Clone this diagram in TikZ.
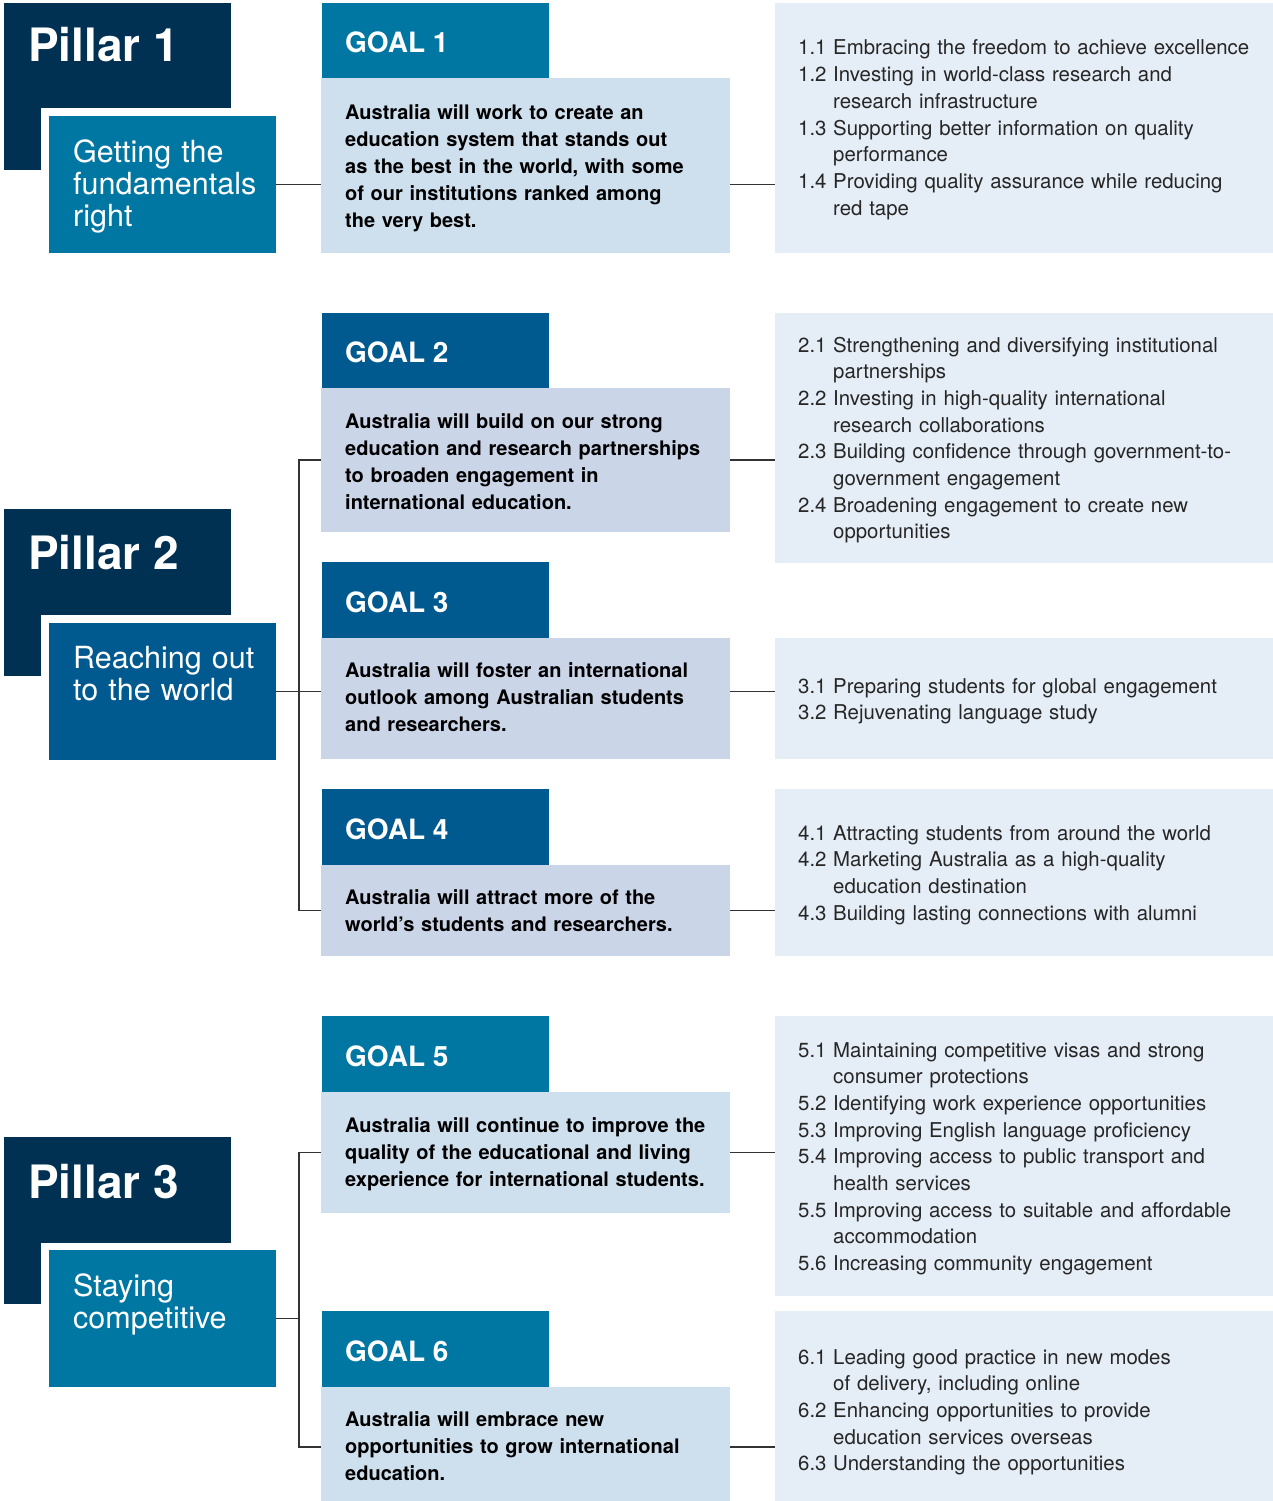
\documentclass[tikz,border=0pt]{standalone}
\usepackage{fontspec}
\setmainfont{TeX Gyre Heros}
\definecolor{navy}{HTML}{003152}
\definecolor{tealb}{HTML}{0077A3}
\definecolor{blueb}{HTML}{00598F}
\definecolor{lightA}{HTML}{CEDFED}
\definecolor{lightB}{HTML}{CBD5E8}
\definecolor{objc}{HTML}{E5EDF6}
\definecolor{linec}{HTML}{333333}
\newcommand{\itm}[1]{\makebox[35pt][l]{#1}}
\newcommand{\cnt}{\hspace*{35pt}}
\begin{document}
\begin{tikzpicture}[x=1pt,y=-1pt,
  box/.style={anchor=north west,inner sep=0pt,outer sep=0pt,draw=none},
  pillartxt/.style={anchor=base west,inner sep=0pt,text=white,font=\fontsize{46}{50}\selectfont\bfseries},
  subtxt/.style={anchor=base west,inner sep=0pt,text=white,align=left,text width=200pt,font=\fontsize{30.5}{32}\selectfont},
  goaltxt/.style={anchor=base west,inner sep=0pt,text=white,font=\fontsize{28}{32}\selectfont\bfseries},
  goalbody/.style={anchor=base west,inner sep=0pt,text=black,align=left,text width=380pt,font=\fontsize{20}{27}\selectfont\bfseries},
  objtxt/.style={anchor=base west,inner sep=0pt,text=black!85,align=left,text width=470pt,font=\fontsize{20.4}{26.67}\selectfont},
  conn/.style={draw=linec,line width=1.1pt}]
\useasboundingbox (0,0) rectangle (1273,1501);

% ---------------- Pillar 1 ----------------
\fill[navy] (4,3) rectangle (231,170);
\fill[white] (41,108) rectangle (280,258);
\node[box,fill=tealb,minimum width=227pt,minimum height=137pt] (s1) at (49,116) {};
\node[pillartxt] (p1t) at (28,62) {Pillar 1};
\node[subtxt] (s1t) at (73,162) {Getting the\\fundamentals\\right};

\node[box,fill=tealb,minimum width=227pt,minimum height=75pt] (g1h) at (322,3) {};
\node[goaltxt] (g1t) at (345,52.5) {GOAL 1};
\node[box,fill=lightA,minimum width=409pt,minimum height=175pt] (g1b) at (321,78) {};
\node[goalbody] (g1x) at (345,120) {Australia will work to create an\\education system that stands out\\as the best in the world, with some\\of our institutions ranked among\\the very best.};

\node[box,fill=objc,minimum width=498pt,minimum height=250pt] (o1) at (775,3) {};
\node[objtxt] (o1x) at (798,55) {\itm{1.1}Embracing the freedom to achieve excellence\\
\itm{1.2}Investing in world-class research and\\\cnt research infrastructure\\
\itm{1.3}Supporting better information on quality\\\cnt performance\\
\itm{1.4}Providing quality assurance while reducing\\\cnt red tape};

\draw[conn] (s1.east) -- (s1.east -| g1b.west);
\draw[conn] (g1b.east |- s1.east) -- (o1.west |- s1.east);

% ---------------- Pillar 2 ----------------
\fill[navy] (4,509) rectangle (231,676);
\fill[white] (41,615) rectangle (280,765);
\node[box,fill=blueb,minimum width=227pt,minimum height=137pt] (s2) at (49,623) {};
\node[pillartxt] (p2t) at (28,569) {Pillar 2};
\node[subtxt] (s2t) at (73,668) {Reaching out\\to the world};

\node[box,fill=blueb,minimum width=227pt,minimum height=75pt] (g2h) at (322,313) {};
\node[goaltxt] (g2t) at (345,362.5) {GOAL 2};
\node[box,fill=lightB,minimum width=409pt,minimum height=144pt] (g2b) at (321,388) {};
\node[goalbody] (g2x) at (345,428) {Australia will build on our strong\\education and research partnerships\\to broaden engagement in\\international education.};
\node[box,fill=objc,minimum width=498pt,minimum height=250pt] (o2) at (775,313) {};
\node[objtxt] (o2x) at (798,352) {\itm{2.1}Strengthening and diversifying institutional\\\cnt partnerships\\
\itm{2.2}Investing in high-quality international\\\cnt research collaborations\\
\itm{2.3}Building confidence through government-to-\\\cnt government engagement\\
\itm{2.4}Broadening engagement to create new\\\cnt opportunities};

\node[box,fill=blueb,minimum width=227pt,minimum height=76pt] (g3h) at (322,562) {};
\node[goaltxt] (g3t) at (345,612) {GOAL 3};
\node[box,fill=lightB,minimum width=409pt,minimum height=121pt] (g3b) at (321,638) {};
\node[goalbody] (g3x) at (345,677) {Australia will foster an international\\outlook among Australian students\\and researchers.};
\node[box,fill=objc,minimum width=498pt,minimum height=121pt] (o3) at (775,638) {};
\node[objtxt] (o3x) at (798,693) {\itm{3.1}Preparing students for global engagement\\
\itm{3.2}Rejuvenating language study};

\node[box,fill=blueb,minimum width=227pt,minimum height=76pt] (g4h) at (322,789) {};
\node[goaltxt] (g4t) at (345,839) {GOAL 4};
\node[box,fill=lightB,minimum width=409pt,minimum height=91pt] (g4b) at (321,865) {};
\node[goalbody] (g4x) at (345,904) {Australia will attract more of the\\world’s students and researchers.};
\node[box,fill=objc,minimum width=498pt,minimum height=167pt] (o4) at (775,789) {};
\node[objtxt] (o4x) at (798,840) {\itm{4.1}Attracting students from around the world\\
\itm{4.2}Marketing Australia as a high-quality\\\cnt education destination\\
\itm{4.3}Building lasting connections with alumni};

\coordinate (b2top) at (299,460);
\coordinate (b2bot) at (299,910.5);
\draw[conn] (g2b.west) -- (b2top) -- (b2bot) -- (g4b.west);
\draw[conn] (s2.east) -- (s2.east -| g3b.west);
\draw[conn] (g2b.east) -- (g2b.east -| o2.west);
\draw[conn] (g3b.east |- s2.east) -- (o3.west |- s2.east);
\draw[conn] (g4b.east) -- (g4b.east -| o4.west);

% ---------------- Pillar 3 ----------------
\fill[navy] (4,1137) rectangle (231,1304);
\fill[white] (41,1243) rectangle (280,1393);
\node[box,fill=tealb,minimum width=227pt,minimum height=137pt] (s3) at (49,1250) {};
\node[pillartxt] (p3t) at (28,1198) {Pillar 3};
\node[subtxt] (s3t) at (73,1296) {Staying\\competitive};

\node[box,fill=tealb,minimum width=227pt,minimum height=76pt] (g5h) at (322,1016) {};
\node[goaltxt] (g5t) at (345,1066) {GOAL 5};
\node[box,fill=lightA,minimum width=409pt,minimum height=121pt] (g5b) at (321,1092) {};
\node[goalbody] (g5x) at (345,1132) {Australia will continue to improve the\\quality of the educational and living\\experience for international students.};
\node[box,fill=objc,minimum width=498pt,minimum height=280pt] (o5) at (775,1016) {};
\node[objtxt] (o5x) at (798,1057) {\itm{5.1}Maintaining competitive visas and strong\\\cnt consumer protections\\
\itm{5.2}Identifying work experience opportunities\\
\itm{5.3}Improving English language proficiency\\
\itm{5.4}Improving access to public transport and\\\cnt health services\\
\itm{5.5}Improving access to suitable and affordable\\\cnt accommodation\\
\itm{5.6}Increasing community engagement};

\node[box,fill=tealb,minimum width=227pt,minimum height=76pt] (g6h) at (322,1311) {};
\node[goaltxt] (g6t) at (345,1361) {GOAL 6};
\node[box,fill=lightA,minimum width=409pt,minimum height=114pt] (g6b) at (321,1387) {};
\node[goalbody] (g6x) at (345,1426) {Australia will embrace new\\opportunities to grow international\\education.};
\node[box,fill=objc,minimum width=498pt,minimum height=190pt] (o6) at (775,1311) {};
\node[objtxt] (o6x) at (798,1364) {\itm{6.1}Leading good practice in new modes\\\cnt of delivery, including online\\
\itm{6.2}Enhancing opportunities to provide\\\cnt education services overseas\\
\itm{6.3}Understanding the opportunities};

\coordinate (b3top) at (299,1152.5);
\coordinate (b3bot) at (299,1447);
\draw[conn] (g5b.west) -- (b3top) -- (b3bot) -- (g6b.west |- b3bot);
\draw[conn] (s3.east) -- (s3.east -| b3top);
\draw[conn] (g5b.east) -- (g5b.east -| o5.west);
\draw[conn] (g6b.east |- b3bot) -- (o6.west |- b3bot);
\end{tikzpicture}
\end{document}
